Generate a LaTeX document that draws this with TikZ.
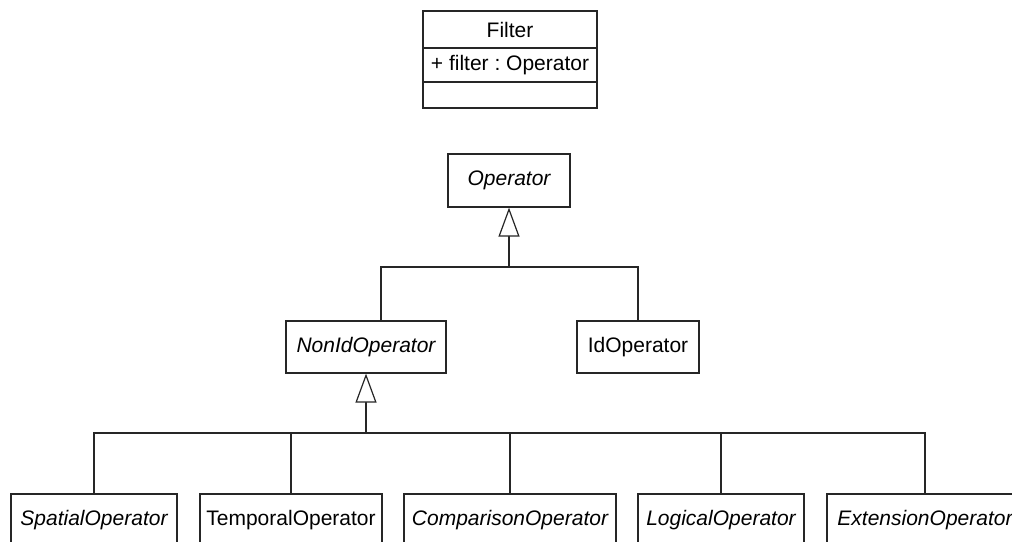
\documentclass[tikz,border=0pt]{standalone}
\usepackage{fontspec}
\setmainfont{Liberation Sans}
\usetikzlibrary{arrows.meta}
\begin{document}
\frenchspacing
\begin{tikzpicture}[x=1pt,y=-1pt,
  box/.style={draw=black!85, line width=1.2pt, rectangle, inner sep=0pt, anchor=center,
    font=\fontsize{21}{25}\selectfont, text=black},
  gen/.style={-{Triangle[open,length=29pt,width=21pt,fill=white]}},
  conn/.style={draw=black!85, line width=1.2pt}]
\useasboundingbox (0,0) rectangle (1012,541);
\clip (0,0) rectangle (1012,541);
% Filter class
\node[box, minimum width=174pt, minimum height=37pt] (fname) at (510,29.5) {Filter};
\node[box, minimum width=174pt, minimum height=34pt] (fattr) at (510,65) {+ filter : Operator};
\node[box, minimum width=174pt, minimum height=26pt] (fops) at (510,95) {};
% hierarchy
\node[box, minimum width=122pt, minimum height=53pt] (op) at (509,180.5) {\itshape Operator};
\node[box, minimum width=160pt, minimum height=52pt] (nonid) at (366,347) {\itshape NonIdOperator};
\node[box, minimum width=122pt, minimum height=52pt] (idop) at (638,347) {IdOperator};
\node[box, minimum width=166pt, minimum height=52pt] (spatial) at (94,520) {\itshape SpatialOperator};
\node[box, minimum width=182pt, minimum height=52pt] (temporal) at (291,520) {TemporalOperator};
\node[box, minimum width=212pt, minimum height=52pt] (comp) at (510,520) {\itshape ComparisonOperator};
\node[box, minimum width=166pt, minimum height=52pt] (logical) at (721,520) {\itshape LogicalOperator};
\node[box, minimum width=196pt, minimum height=52pt] (ext) at (925,520) {\itshape ExtensionOperator};
% connectors
\coordinate (j1) at (509,267);
\coordinate (j2) at (366,433);
\draw[conn, gen] (j1) -- (op.south);
\draw[conn] ([xshift=15pt]nonid.north) |- (j1) -| (idop.north);
\draw[conn, gen] (j2) -- (nonid.south);
\draw[conn] (spatial.north) |- (j2) -| (ext.north);
\draw[conn] (temporal.north) -- (temporal.north |- j2);
\draw[conn] (comp.north) -- (comp.north |- j2);
\draw[conn] (logical.north) -- (logical.north |- j2);
\end{tikzpicture}
\end{document}
